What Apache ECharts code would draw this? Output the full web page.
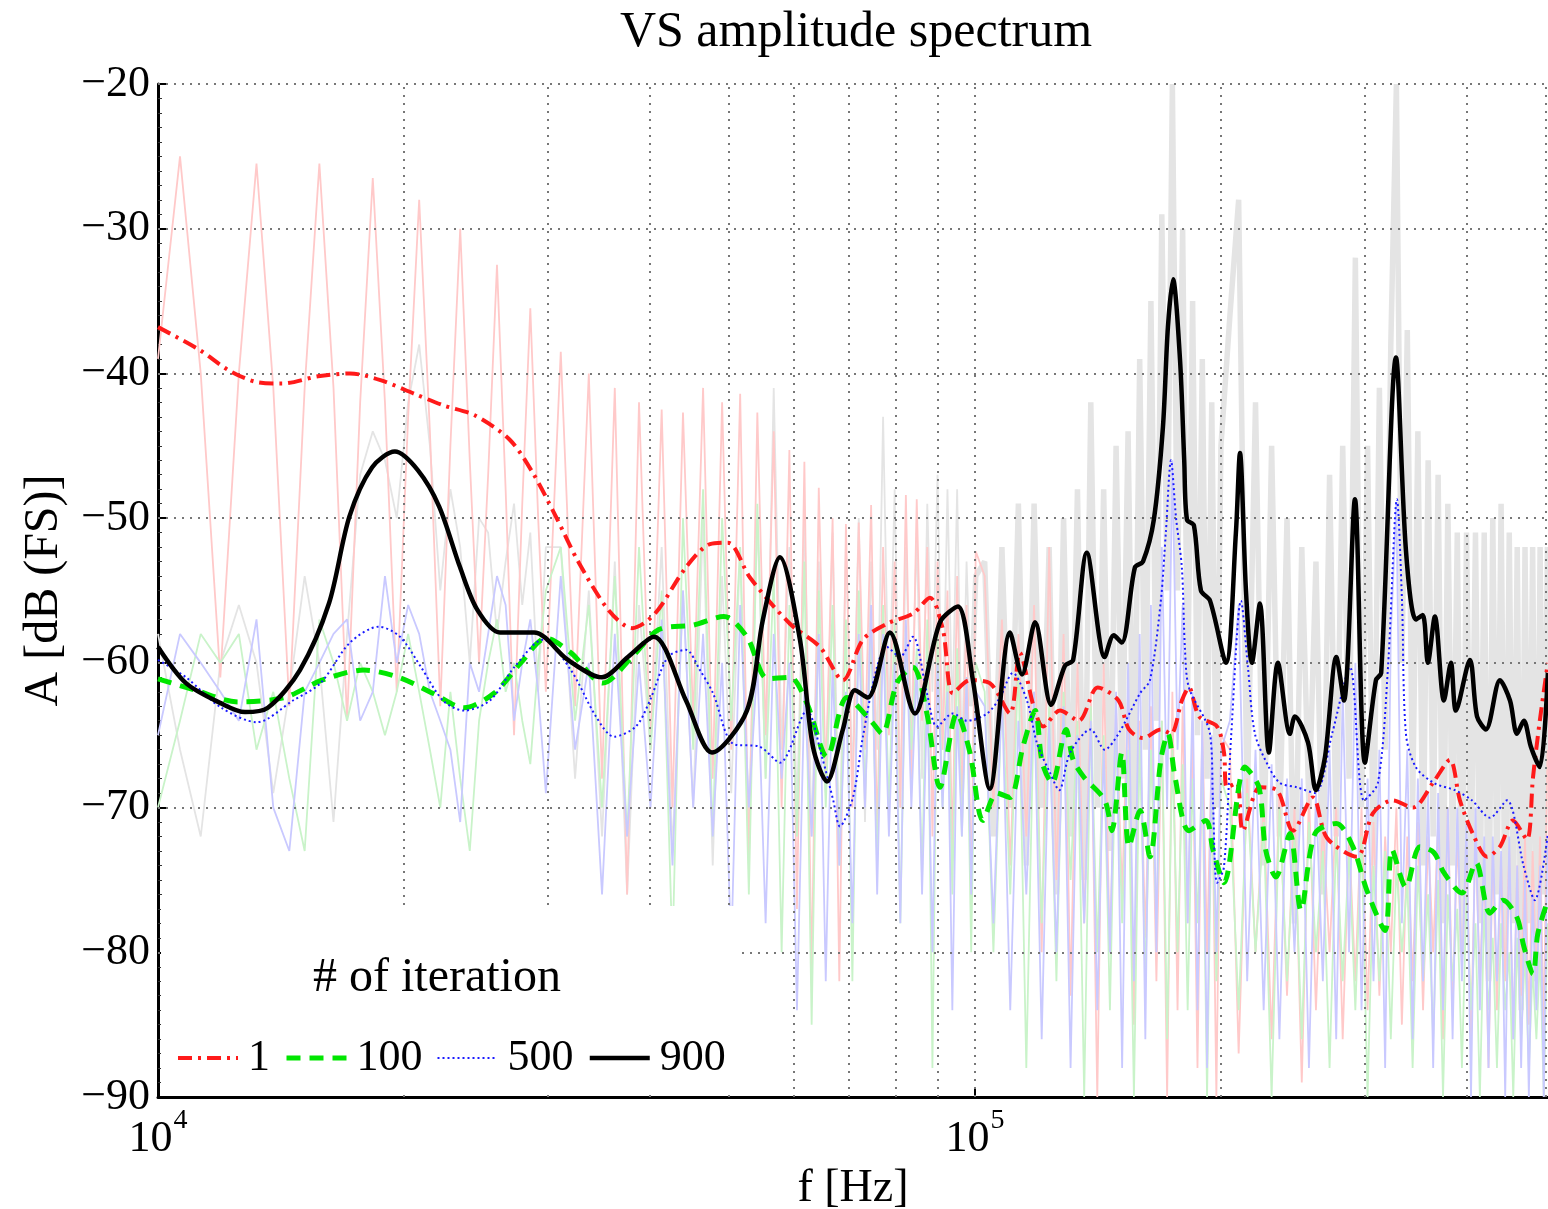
<!DOCTYPE html>
<html>
<head>
<meta charset="utf-8">
<script src="https://cdn.jsdelivr.net/npm/echarts@6/dist/echarts.min.js"></script>
<style>html,body{margin:0;padding:0;background:#fff;overflow:hidden}#c{width:1548px;height:1209px}</style>
</head>
<body>
<div id="c"></div>
<script>
// ---- shared frequency bins of the raw spectra (kHz) ----
const rawFreqKHz = [
 10.00,10.64,11.28,11.92,12.56,13.20,13.84,14.48,15.12,15.76,16.40,17.04,17.68,18.32,18.96,19.60,20.24,20.88,21.52,22.16,22.80,23.44,24.08,24.72,25.36,26.00,26.64,27.28,27.92,28.56,29.20,29.84,
 31.12,32.40,33.68,34.96,36.24,37.52,38.80,40.08,41.36,42.64,43.92,45.20,46.48,47.76,49.04,50.32,51.60,52.88,54.16,55.44,56.72,58.00,59.28,60.56,61.84,63.12,64.40,65.68,66.96,68.24,69.52,70.80,72.08,73.36,74.64,75.92,77.20,78.48,79.76,81.04,82.32,83.60,84.88,86.16,87.44,88.72,90.00,91.28,92.56,93.84,95.12,96.40,97.68,98.96,100.24,
 102.80,105.36,107.92,110.48,113.04,115.60,118.16,120.72,123.28,125.84,128.40,130.96,133.52,136.08,138.64,141.20,143.76,146.32,148.88,151.44,154.00,156.56,159.12,161.68,164.24,166.80,169.36,171.92,174.48,177.04,179.60,182.16,184.72,187.28,189.84,192.40,194.96,197.52,200.08,
 205.20,210.32,215.44,220.56,225.68,230.80,235.92,241.04,246.16,251.28,256.40,261.52,266.64,271.76,276.88,282.00,287.12,292.24,297.36,302.48,307.60,312.72,317.84,322.96,328.08,333.20,338.32,343.44,348.56,353.68,358.80,363.92,369.04,374.16,379.28,384.40,389.52,394.64,399.76,404.88,410.00,415.12,420.24,425.36,430.48,435.60,440.72,445.84,450.96,456.08,461.20,466.32,471.44,476.56,481.68,486.80,491.92,497.04,502.16
];
// ---- raw spectra (dB FS) ----
const raw1 = [
 -39,-25,-40,-61,-40,-25.5,-41,-63,-41,-25.5,-41,-64,-42,-26.5,-42,-62,-43,-28,-44,-63,-45,-30,-46,-60,-47,-32.5,-48,-65,-49,-35.5,-50,-62,
 -38.5,-63,-40,-68,-41,-76,-42,-66,-42.5,-70,-42.7,-64,-41,-68,-42,-66,-41.4,-74,-42.7,-65,-44,-70,-45.3,-77,-46.1,-82,-47.9,-68,-50,-82,-50.4,-70,-50.3,-66,-49.1,-72,-52,-65,-53,-70,-48.4,-68,-48.7,-64,-52,-72,-53,-66,-55,-73,-54,-70,-56,-76,-52.3,
 -54,-70,-57,-74,-58,-72,-56,-80,-52,-75,-58,-83,-60,-78,-62,-90,-60,-80,-63,-76,-62,-85,-64,-79,-63,-82,-64,-90,-62,-84,-63,-78,-65,-88,-64,-80,-66,-90,-65,
 -66,-87,-68,-80,-70,-86,-69,-83,-70,-89,-69,-84,-71,-80,-70,-86,-72,-82,-70,-84,-71,-83,-72,-80,-70,-85,-72,-82,-71,-84,-72,-80,-71,-86,-70,-84,-72,-81,-73,-86,-72,-82,-74,-88,-73,-84,-74,-82,-73,-86,-74,-83,-72,-85,-73,-82,-72,-86,-66
];
const raw100 = [
 -70,-64,-58,-60,-58,-66,-62,-68,-73,-57,-60,-64,-60,-62,-65,-62,-58,-62,-66,-70,-62,-68,-73,-64,-60,-57,-62,-60,-64,-67,-60,-55,
 -52,-64,-56,-70,-54,-72,-52,-66,-55,-80,-50,-66,-48,-72,-50,-64,-52,-76,-49,-68,-54,-80,-56,-72,-53,-85,-55,-70,-56,-74,-57,-82,-55,-69,-58,-74,-56,-70,-57,-78,-58,-66,-59,-75,-57,-88,-58,-70,-60,-76,-59,-72,-61,-80,-60,
 -62,-80,-62,-76,-60,-88,-62,-78,-63,-82,-62,-75,-64,-90,-63,-80,-65,-84,-64,-78,-66,-90,-65,-82,-66,-78,-64,-86,-66,-80,-67,-84,-68,-78,-67,-90,-69,-82,-68,
 -70,-84,-69,-80,-71,-90,-70,-82,-72,-86,-71,-80,-73,-88,-72,-82,-73,-84,-72,-90,-74,-82,-73,-86,-74,-80,-75,-88,-74,-82,-76,-86,-75,-90,-76,-82,-77,-88,-76,-84,-78,-90,-77,-84,-79,-88,-78,-84,-80,-90,-79,-86,-80,-88,-81,-86,-80,-90,-78
];
const raw500 = [
 -65,-58,-60,-62,-64,-57,-70,-73,-62,-60,-58,-57,-64,-62,-54,-60,-56,-58,-62,-64,-66,-71,-60,-62,-58,-54,-56,-64,-60,-57,-62,-69,
 -54,-66,-60,-76,-58,-72,-60,-70,-57,-74,-55,-70,-58,-72,-60,-80,-56,-70,-60,-78,-58,-68,-60,-84,-62,-72,-58,-82,-60,-74,-62,-78,-58,-70,-56,-76,-58,-72,-60,-78,-57,-70,-60,-76,-62,-80,-60,-70,-62,-84,-63,-72,-61,-76,-62,
 -63,-78,-62,-84,-64,-76,-62,-86,-64,-80,-63,-88,-65,-78,-64,-84,-66,-80,-62,-88,-60,-82,-58,-86,-56,-80,-52,-70,-46,-66,-56,-78,-62,-84,-64,-88,-65,-80,-66,
 -64,-56,-82,-66,-84,-67,-86,-68,-80,-68,-88,-69,-82,-66,-86,-62,-80,-60,-84,-68,-82,-66,-88,-58,-49,-78,-66,-86,-68,-82,-69,-88,-69,-84,-70,-86,-70,-82,-71,-90,-70,-84,-72,-88,-72,-82,-73,-90,-72,-86,-74,-88,-75,-90,-76,-84,-74,-90,-72
];
const raw900 = [
 -58,-66,-72,-60,-56,-60,-69,-62,-54,-60,-71,-58,-47,-44,-46,-50,-42,-38,-45,-55,-48,-52,-60,-50,-51,-58,-53,-49,-56,-51,-62,-52,
 -52,-68,-55,-72,-53,-76,-56,-66,-52,-73,-55,-70,-50,-74,-54,-69,-52,-71,-50,-68,-41,-66,-52,-70,-50,-72,-53,-69,-51,-73,-52,-68,-50,-71,-53,-66,-43,-64,-48,-70,-52,-65,-51,-68,-49,-62,-47,-66,-48,-64,-48,-67,-53,-63,-54,
 -53,-72,-52,-70,-49,-74,-49,-70,-52,-76,-50,-72,-48,-75,-42,-70,-48,-73,-45,-68,-44,-72,-39,-66,-35,-64,-29,-55,-20,-55,-30,-62,-35,-65,-39,-68,-42,-70,-45,
 -36,-28,-70,-42,-74,-45,-72,-50,-78,-52,-70,-53,-76,-47,-72,-45,-68,-32,-70,-45,-74,-41,-66,-38,-20,-60,-37,-70,-44,-74,-46,-72,-47,-78,-49,-74,-51,-80,-51,-75,-51,-78,-51,-82,-50,-76,-49,-80,-51,-78,-52,-84,-52,-78,-52,-82,-52,-76,-52
];
// ---- smoothed spectra: frequency (kHz) and amplitude (dB FS) ----
const freq1 = [10.0,11.26,12.22,13.22,14.18,15.70,17.18,18.80,20.58,22.33,24.44,26.97,28.78,30.70,32.76,35.66,38.04,40.58,44.29,47.39,49.85,53.04,59.37,64.61,68.93,72.93,78.03,83.97,88.09,91.38,93.99,98.61,104.3,110.4,113.5,118.0,121.2,127.1,134.0,141.4,149.9,154.4,160.6,168.9,173.8,179.2,182.8,188.1,197.9,201.8,203.5,209.3,212.8,223.3,234.3,245.1,259.3,269.8,293.5,307.0,324.9,343.7,363.6,381.5,392.4,406.9,423.6,439.3,455.6,473.9,482.2,491.5,502.8];
const amp1 = [-36.8,-38.4,-39.8,-40.6,-40.7,-40.2,-40.0,-40.5,-41.4,-42.2,-42.9,-44.6,-46.9,-49.9,-53.1,-56.4,-57.6,-56.6,-53.4,-51.8,-51.7,-54.1,-57.3,-58.9,-61.2,-58.4,-57.3,-56.6,-55.5,-57.7,-62.1,-61.2,-61.4,-63.5,-59.3,-63.0,-64.4,-63.3,-64.0,-61.7,-62.6,-64.6,-65.2,-64.6,-64.9,-62.6,-61.7,-63.7,-64.4,-66.2,-68.6,-68.3,-71.6,-68.6,-68.8,-71.6,-69.3,-72.1,-73.4,-70.4,-69.5,-70.0,-68.3,-66.7,-69.5,-71.8,-73.4,-72.7,-70.9,-72.2,-67.9,-64.0,-60.0];
const freq100 = [10.0,11.13,12.53,14.27,15.87,17.87,19.72,21.70,23.69,25.78,27.81,29.85,32.02,35.04,38.04,41.03,45.17,49.29,52.59,55.79,59.37,62.28,65.90,69.72,74.59,77.00,80.27,83.97,87.35,90.61,95.05,98.61,102.3,106.4,110.4,114.5,118.5,120.9,124.3,129.3,131.9,136.0,144.2,147.1,151.3,154.4,159.3,163.8,168.9,172.3,175.8,182.8,191.8,195.6,201.8,214.1,222.7,226.9,233.6,243.0,250.7,260.8,277.0,290.2,301.8,317.7,324.1,337.0,350.6,364.6,375.1,394.6,410.6,427.1,443.0,460.9,469.9,482.2,488.8,502.8];
const amp100 = [-61.1,-61.9,-62.7,-62.4,-61.2,-60.5,-61.0,-62.1,-63.1,-62.1,-60.0,-58.3,-59.3,-61.4,-59.6,-57.7,-57.4,-56.8,-58.2,-61.1,-61.0,-62.8,-66.5,-62.4,-64.0,-64.9,-61.4,-60.3,-63.5,-68.6,-63.5,-66.2,-70.9,-69.0,-69.3,-65.8,-63.3,-66.9,-68.3,-64.6,-66.7,-67.9,-69.5,-71.6,-66.2,-72.7,-70.2,-73.4,-66.7,-64.9,-67.9,-71.6,-70.9,-72.9,-75.2,-67.2,-68.6,-72.9,-74.8,-71.8,-77.1,-71.8,-71.1,-72.7,-75.7,-78.5,-72.9,-75.5,-72.7,-73.1,-74.5,-75.9,-73.8,-77.3,-76.4,-77.6,-79.6,-81.5,-78.7,-76.4];
const freq500 = [10.0,10.82,11.95,13.22,14.63,15.81,17.18,18.64,19.78,20.99,22.33,23.69,25.49,27.30,29.60,32.02,34.36,36.15,38.46,40.01,42.09,44.29,46.07,47.80,50.60,54.56,57.72,62.28,64.98,67.08,68.35,70.91,72.93,75.87,78.03,80.95,83.97,87.35,89.86,93.99,97.77,103.5,107.3,111.3,115.8,119.2,123.6,126.8,130.8,138.6,144.2,149.9,159.3,163.8,168.9,171.3,173.8,176.3,179.2,180.8,182.8,194.0,195.6,197.9,201.8,206.0,211.7,215.9,220.2,229.0,236.3,247.9,260.8,273.7,287.8,299.4,311.4,320.4,328.6,333.3,337.0,346.5,364.6,386.9,405.9,427.1,448.0,469.9,484.6,502.8];
const amp500 = [-59.8,-61.0,-63.1,-64.1,-62.6,-61.4,-58.6,-57.5,-58.2,-60.3,-62.6,-63.3,-62.6,-60.3,-58.4,-60.5,-63.7,-65.1,-64.4,-62.6,-59.6,-59.1,-60.5,-62.1,-65.6,-65.8,-66.9,-63.3,-66.5,-69.5,-71.3,-69.3,-65.1,-60.3,-58.9,-59.6,-58.2,-62.1,-64.4,-63.5,-64.0,-63.5,-62.4,-60.7,-62.6,-65.6,-67.6,-68.8,-66.2,-64.6,-66.0,-64.9,-62.1,-61.2,-55.7,-51.0,-46.0,-50.0,-53.4,-59.1,-61.7,-64.9,-69.5,-75.2,-74.1,-64.9,-55.7,-60.3,-64.9,-67.2,-68.3,-68.6,-69.0,-64.9,-60.3,-69.5,-68.3,-60.3,-48.7,-55.7,-64.9,-67.2,-68.3,-68.8,-69.5,-70.7,-69.5,-74.1,-76.4,-71.8];
const freq900 = [10.0,10.82,11.95,12.78,13.63,14.92,16.19,17.15,18.28,19.50,20.81,22.09,23.43,24.58,26.22,28.86,31.76,34.95,37.60,40.46,44.29,47.66,52.59,55.02,57.72,61.07,63.35,65.90,68.93,71.31,73.97,78.70,84.45,90.61,95.33,99.44,104.3,110.4,114.2,118.5,124.0,128.9,131.9,137.1,144.2,147.9,151.3,157.0,160.6,165.6,169.9,172.3,174.8,178.3,180.4,181.8,185.4,189.1,194.0,202.9,208.7,211.1,214.7,218.3,223.3,229.0,234.9,243.0,246.5,255.7,261.5,268.3,277.0,283.0,291.9,300.2,309.7,314.3,327.7,337.0,346.5,353.4,358.5,365.7,375.1,382.6,388.0,403.6,411.8,422.3,439.3,451.9,460.9,469.9,479.3,491.5,502.8];
const amp900 = [-58.9,-61.4,-62.8,-63.4,-63.1,-60.5,-55.9,-49.9,-46.5,-45.4,-46.7,-49.2,-53.4,-56.3,-57.9,-57.9,-59.8,-61.0,-59.6,-58.2,-62.6,-66.2,-63.3,-57.0,-52.7,-58.4,-65.8,-68.2,-64.6,-61.9,-62.4,-57.9,-63.5,-57.2,-56.1,-61.2,-68.7,-57.9,-60.8,-57.2,-62.9,-60.2,-59.8,-52.4,-59.6,-58.1,-58.6,-53.4,-53.0,-50.1,-43.7,-36.8,-33.5,-39.1,-46.0,-50.1,-50.5,-55.0,-55.7,-60.0,-51.0,-45.5,-55.0,-60.0,-55.9,-66.2,-60.0,-64.9,-63.7,-65.5,-68.8,-66.5,-59.6,-62.6,-48.7,-66.9,-61.2,-60.7,-38.9,-52.2,-57.0,-56.7,-60.0,-56.8,-62.6,-60.0,-63.3,-59.8,-63.7,-64.6,-61.2,-62.6,-64.9,-64.0,-65.8,-67.2,-60.7];
// ---- axes / grid ----
const seriesNames = ['1', '100', '500', '900'];
const yTicks = [-20, -30, -40, -50, -60, -70, -80];
const xGridHz = [20000,30000,40000,50000,60000,70000,80000,90000,100000,200000,300000,400000,500000];

const FONT = "'Liberation Serif','DejaVu Serif',serif";
const toPairs = (fk, a) => fk.map((f, i) => [f * 1000, a[i]]);
// first raw bin above 100 kHz: the dense part is drawn with a wider pen
const denseStart = rawFreqKHz.findIndex(f => f > 100);

function rawSeries(pairs, color, width) {
  return {
    type: 'line', data: pairs, symbol: 'none', silent: true, z: 2,
    lineStyle: { color: color, width: width }, emphasis: { disabled: true }, animation: false
  };
}
function smoothSeries(name, fk, a, color, width, dash) {
  return {
    name: name, type: 'line', data: toPairs(fk, a), symbol: 'none', showSymbol: false, smooth: 0.3, z: 5,
    itemStyle: { color: color },
    lineStyle: { color: color, width: width, type: dash, cap: 'butt' },
    emphasis: { disabled: true }, animation: false
  };
}
const gray = toPairs(rawFreqKHz, raw900);

const chart = echarts.init(document.getElementById('c'), null, { width: 1548, height: 1209 });
chart.setOption({
  backgroundColor: '#fff',
  animation: false,
  title: {
    text: 'VS amplitude spectrum', left: 851, top: 3, textAlign: 'center',
    textStyle: { fontFamily: FONT, fontSize: 50, fontWeight: 'normal', color: '#000' }
  },
  grid: { left: 158, top: 84, width: 1390, height: 1013, containLabel: false, outerBoundsMode: 'none' },
  xAxis: {
    type: 'log', logBase: 10, min: 10000, max: 503000,
    name: 'f [Hz]', nameLocation: 'middle', nameGap: 64,
    nameTextStyle: { fontFamily: FONT, fontSize: 46, color: '#000' },
    axisLine: { lineStyle: { color: '#000', width: 3 } },
    axisTick: { inside: true, length: 10, lineStyle: { color: '#000', width: 2 } },
    splitLine: { show: false },
    axisLabel: {
      margin: 10, color: '#000', showMaxLabel: false,
      formatter: function (v) {
        const e = Math.round(Math.log10(v));
        if (Math.abs(v - Math.pow(10, e)) / v > 1e-6) return '';
        return '{b|10}{s|' + e + '}';
      },
      rich: {
        b: { fontFamily: FONT, fontSize: 44, color: '#000', verticalAlign: 'bottom' },
        s: { fontFamily: FONT, fontSize: 28, color: '#000', verticalAlign: 'bottom', padding: [0, 0, 26, 1] }
      }
    }
  },
  yAxis: {
    type: 'value', min: -90, max: -20, interval: 10,
    name: 'A [dB (FS)]', nameLocation: 'middle', nameGap: 90, nameRotate: 90,
    nameTextStyle: { fontFamily: FONT, fontSize: 48, color: '#000' },
    axisLine: { show: true, lineStyle: { color: '#000', width: 3 } },
    axisTick: { show: true, inside: true, length: 10, lineStyle: { color: '#000', width: 2 } },
    minorTick: { show: true, splitNumber: 10, length: 4, lineStyle: { color: '#333', width: 1 } },
    splitLine: { show: false },
    axisLabel: {
      margin: 8, color: '#000', fontFamily: FONT, fontSize: 44,
      formatter: v => (v < 0 ? '\u2212' + Math.abs(v) : String(v))
    }
  },
  legend: {
    data: [
      { name: '1', lineStyle: { width: 4 } },
      { name: '100', lineStyle: { width: 5 } },
      { name: '500', lineStyle: { width: 2 } },
      { name: '900', lineStyle: { width: 4.5 } }
    ],
    left: 176, top: 1036, itemWidth: 60, itemHeight: 14, itemGap: 14,
    selectedMode: false, z: 110, padding: 0,
    itemStyle: { opacity: 0 },
    textStyle: { fontFamily: FONT, fontSize: 44, color: '#000', padding: [0, 0, 0, 5] }
  },
  graphic: {
    elements: [
      { type: 'rect', left: 161, top: 906, z: 100, silent: true,
        shape: { width: 576, height: 187 }, style: { fill: '#fff' } },
      { type: 'text', left: 313, top: 954, z: 110, silent: true,
        style: { text: '# of iteration', font: "48px 'Liberation Serif'", fill: '#000' } }
    ]
  },
  series: [
    rawSeries(gray.slice(0, denseStart), '#e4e4e4', 1.8),
    rawSeries(gray.slice(denseStart - 1), '#e4e4e4', 5.5),
    rawSeries(toPairs(rawFreqKHz, raw1), '#ffc9c9', 1.8),
    rawSeries(toPairs(rawFreqKHz, raw100), '#c9f3c9', 1.8),
    rawSeries(toPairs(rawFreqKHz, raw500), '#c9c9ff', 1.8),
    {
      type: 'line', data: [], silent: true, z: 3,
      markLine: {
        silent: true, symbol: ['none', 'none'], label: { show: false }, animation: false,
        lineStyle: { color: '#777', width: 2, type: [2, 6] },
        emphasis: { disabled: true },
        data: xGridHz.map(v => ({ xAxis: v })).concat(yTicks.map(v => ({ yAxis: v })))
      }
    },
    smoothSeries('1', freq1, amp1, '#ff1a1a', 4, [14, 6, 3, 6]),
    smoothSeries('100', freq100, amp100, '#00e600', 5, [14, 9]),
    smoothSeries('500', freq500, amp500, '#1a1aff', 2, [2, 3]),
    smoothSeries('900', freq900, amp900, '#000000', 4.5, 'solid')
  ]
});
</script>
</body>
</html>
